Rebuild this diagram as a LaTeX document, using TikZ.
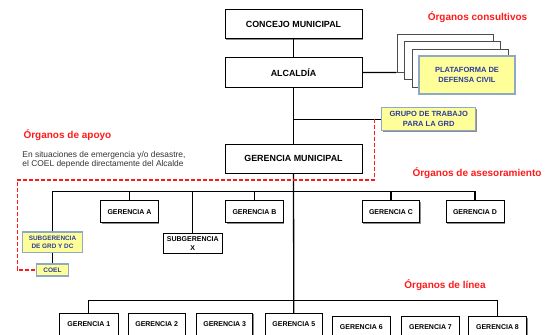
\documentclass[tikz,border=0pt]{standalone}
\usepackage{fontspec}
\setmainfont{Liberation Sans}
\usetikzlibrary{shadows}
\definecolor{amarillo}{HTML}{FFFF99}
\definecolor{azultxt}{HTML}{2B3A9E}
\definecolor{bordeaz}{HTML}{8FA8C8}
\definecolor{rojo}{HTML}{FF1A1A}
\tikzset{
  caja/.style={draw=black,line width=0.8pt,fill=white,align=center,inner sep=0pt,
    font=\bfseries\fontsize{7}{9.3}\selectfont,
    drop shadow={shadow xshift=0.8pt,shadow yshift=-0.8pt,fill=black!45,opacity=1}},
  cajamayor/.style={caja,minimum width=137pt,minimum height=29.5pt,font=\bfseries\fontsize{8.9}{9}\selectfont},
  cajagrd/.style={caja,fill=amarillo,draw=bordeaz,line width=1.1pt,text=azultxt,
    font=\bfseries\fontsize{7.5}{10}\selectfont},
  hoja/.style={draw=black!70,line width=0.8pt,fill=white,minimum width=96pt,minimum height=38pt},
  organo/.style={text=rojo,font=\bfseries\fontsize{10}{12}\selectfont,inner sep=0pt},
  linea/.style={line width=1.3pt},
  apoyo/.style={draw=rojo,line width=1.3pt,dash pattern=on 4pt off 2pt}
}
\begin{document}
\begin{tikzpicture}[x=1pt,y=-1pt]
\useasboundingbox (0,0) rectangle (547,335);
\node[cajamayor] (concejo) at (293.5,24) {CONCEJO MUNICIPAL};
\node[cajamayor] (alcaldia) at (293.5,72.5) {ALCALDÍA};
\node[cajamayor,minimum height=29pt] (gmun) at (293.5,158.5) {GERENCIA MUNICIPAL};
\node[hoja] (hoja1) at (445,53) {};
\node[hoja] (hoja2) at (452.5,60.5) {};
\node[hoja] (hoja3) at (460,68) {};
\node[cajagrd,minimum width=96pt,minimum height=38pt] (plataforma) at (467,75) {PLATAFORMA DE\\DEFENSA CIVIL};
\node[cajagrd,minimum width=94pt,minimum height=23pt] (grupo) at (428.7,119.2) {GRUPO DE TRABAJO\\PARA LA GRD};
\node[caja,minimum width=57.6pt,minimum height=22pt] (gA) at (129.5,211.7) {GERENCIA A};
\node[caja,minimum width=59.7pt,minimum height=20pt] (subX) at (192.8,243.3) {SUBGERENCIA\\X};
\node[caja,minimum width=57.6pt,minimum height=22pt] (gB) at (254.5,211.7) {GERENCIA B};
\node[caja,minimum width=57.4pt,minimum height=22pt] (gC) at (391,211.7) {GERENCIA C};
\node[caja,minimum width=58pt,minimum height=22pt] (gD) at (475,211.7) {GERENCIA D};
\node[cajagrd,minimum width=60pt,minimum height=20.7pt,font=\bfseries\fontsize{6.4}{8.6}\selectfont] (subgrd) at (52.5,242.3) {SUBGERENCIA\\DE GRD Y DC};
\node[cajagrd,minimum width=31.3pt,minimum height=12pt,font=\bfseries\fontsize{6.5}{8}\selectfont] (coel) at (52.5,270) {COEL};
\node[caja,minimum width=59pt,minimum height=22pt] (g1) at (88.8,324.3) {GERENCIA 1};
\node[caja,minimum width=56.7pt,minimum height=22pt] (g2) at (156.7,324.3) {GERENCIA 2};
\node[caja,minimum width=56pt,minimum height=22pt] (g3) at (224.7,324.3) {GERENCIA 3};
\node[caja,minimum width=57.7pt,minimum height=22pt] (g5) at (293.8,324.3) {GERENCIA 5};
\node[caja,minimum width=57.3pt,minimum height=20pt] (g6) at (361.3,326.7) {GERENCIA 6};
\node[caja,minimum width=57.6pt,minimum height=20pt] (g7) at (430.5,326.7) {GERENCIA 7};
\node[caja,minimum width=58.4pt,minimum height=20pt] (g8) at (497.5,326.7) {GERENCIA 8};
\node[organo] (oconsult) at (477.5,16.7) {Órganos consultivos};
\node[organo,anchor=west] (oapoyo) at (23.3,135) {Órganos de apoyo};
\node[organo,anchor=east] (oaseso) at (541.7,173) {Órganos de asesoramiento};
\node[organo] (olinea) at (445,285) {Órganos de línea};
\node[anchor=north west,align=left,inner sep=0pt,text=black!80,font=\fontsize{8.4}{7.8}\selectfont] (nota) at (22.3,151) {En situaciones de emergencia y/o desastre,\\el COEL depende directamente del Alcalde};
\coordinate (busA) at (0,191.7);
\coordinate (busB) at (0,300.7);
\coordinate (apoyo1) at (374.3,119.2);
\coordinate (apoyo2) at (17.3,180);
\draw[linea] (concejo) -- (alcaldia);
\draw[linea] (alcaldia) -- (gmun);
\draw[linea] (alcaldia.east) -- (hoja1.south west);
\draw[linea] (alcaldia.south |- grupo.west) -- (grupo.west);
\draw[linea] (gmun.south) -- (g5.north);
\draw[linea] (subgrd.north) |- (gD.north |- busA) -- (gD.north);
\foreach \g in {gA,subX,gB,gC}
  \draw[linea] (\g.north |- busA) -- (\g.north);
\draw[linea] (subgrd) -- (coel);
\draw[linea] (g1.north) |- (g8.north |- busB) -- (g8.north);
\draw[apoyo] (apoyo1) |- (apoyo2) |- (coel.west);
\end{tikzpicture}
\end{document}
